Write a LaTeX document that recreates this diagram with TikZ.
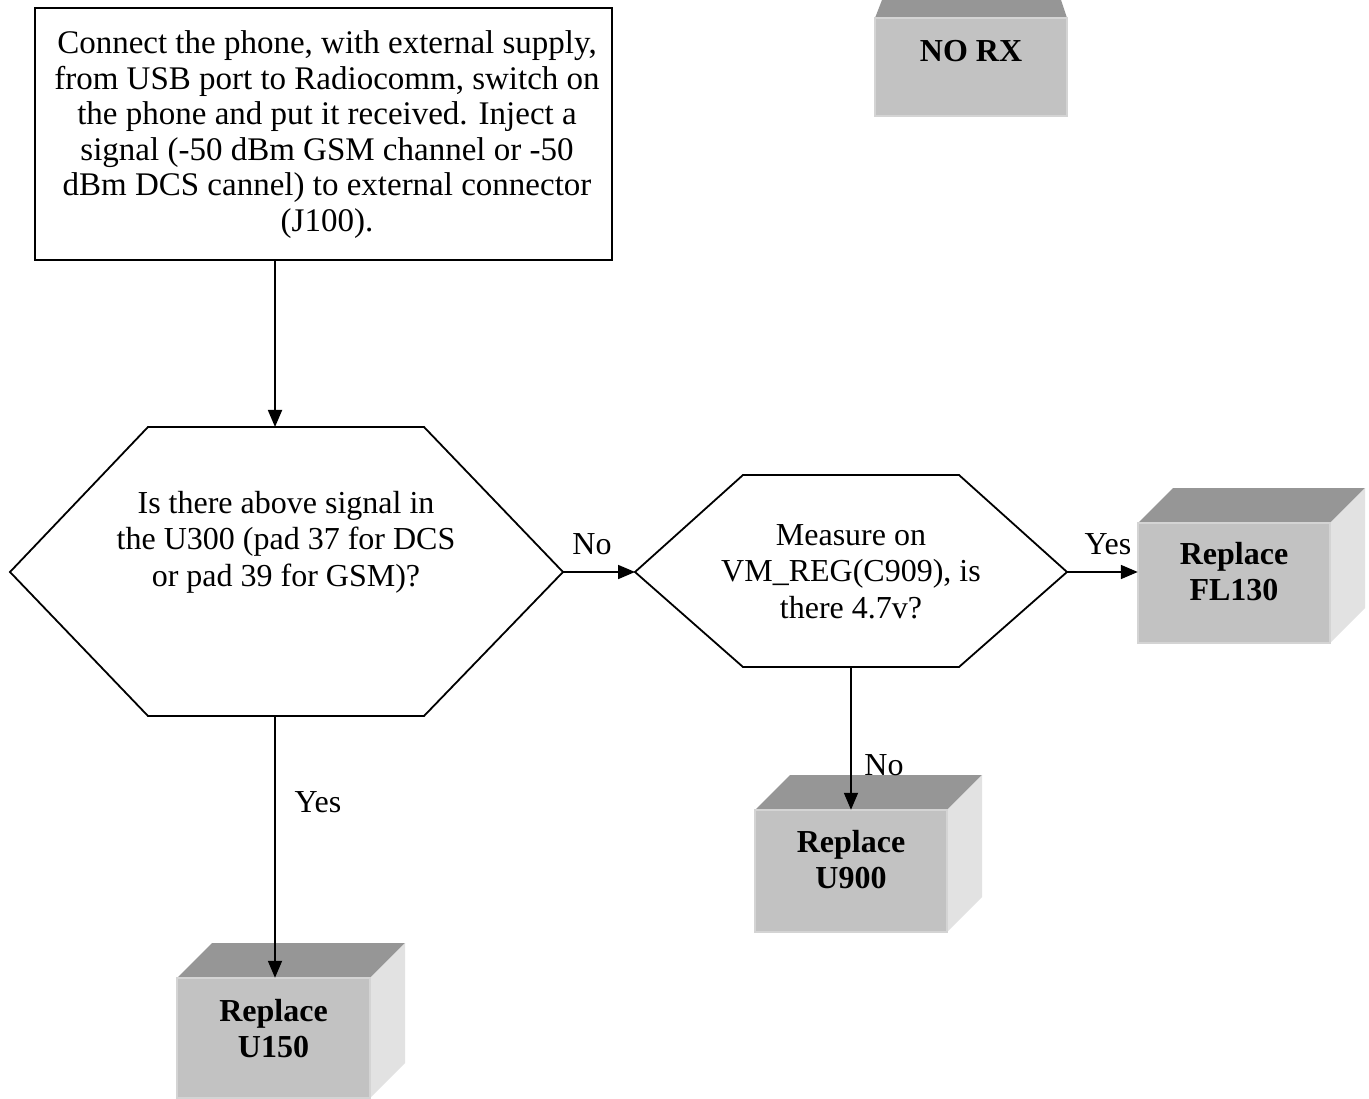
\documentclass[tikz,border=0pt]{standalone}
\usepackage{fontspec}
\setmainfont{Liberation Serif}
\usetikzlibrary{arrows.meta}
\definecolor{cfront}{RGB}{194,194,194}
\definecolor{ctop}{RGB}{150,150,150}
\definecolor{cside}{RGB}{226,226,226}
\definecolor{cedge}{RGB}{212,212,212}
\tikzset{
  conn/.style={line width=1.8pt, -{Triangle[length=17pt,width=14pt]}},
  shapeline/.style={line width=1.8pt, line join=miter},
  body/.style={font=\fontsize{32}{36.5}\selectfont, inner sep=0pt, anchor=base},
  bigbody/.style={font=\fontsize{33}{35.5}\selectfont, inner sep=0pt, anchor=base},
  boxtxt/.style={font=\fontsize{32}{36.5}\selectfont\bfseries, inner sep=0pt, anchor=base},
  lbl/.style={font=\fontsize{32}{36.5}\selectfont, inner sep=0pt, anchor=base},
}
\newcommand\mkcube[5]{%
  \fill[ctop] (#2,#3) -- (#4,#3) -- ({#4+35},{#3-35}) -- ({#2+35},{#3-35}) -- cycle;
  \fill[cside] (#4,#3) -- ({#4+35},{#3-35}) -- ({#4+35},{#5-35}) -- (#4,#5) -- cycle;
  \filldraw[fill=cfront, draw=cedge, line width=1.2pt] (#2,#3) rectangle (#4,#5);
  \node[inner sep=0pt, minimum width={#4-#2}, minimum height={#5-#3}] (#1) at ({(#2+#4)/2},{(#3+#5)/2}) {};
}
\begin{document}
\begin{tikzpicture}[x=1pt,y=-1pt]
\useasboundingbox (0,0) rectangle (1369,1099);
\fill[white] (0,0) rectangle (1369,1099);

% start box
\node[draw, line width=1.8pt, minimum width=577, minimum height=252, inner sep=0pt] (start) at (323.5,134) {};
\node[bigbody] (starttxt) at (327,54) {\parbox[t]{600pt}{\centering Connect the phone, with external supply,\\ from USB port to Radiocomm, switch on\\ the phone and put it received. Inject a\\ signal (-50 dBm GSM channel or -50\\ dBm DCS cannel) to external connector\\ (J100).}};

% hexagon 1
\draw[shapeline] (10,572) -- (148,427) -- (424,427) -- (563,572) -- (424,716) -- (148,716) -- cycle;
\coordinate (h1L) at (10,572);
\coordinate (h1R) at (563,572);
\coordinate (h1T) at (275,427);
\coordinate (h1B) at (275,716);
\node[body] (h1txt) at (286,513) {\parbox[t]{420pt}{\centering Is there above signal in\\ the U300 (pad 37 for DCS\\ or pad 39 for GSM)?}};

% hexagon 2
\draw[shapeline] (635,572) -- (743,475) -- (959,475) -- (1067,572) -- (959,667) -- (743,667) -- cycle;
\coordinate (h2L) at (635,572);
\coordinate (h2R) at (1067,572);
\coordinate (h2B) at (851,667);
\node[body] (h2txt) at (851,545) {\parbox[t]{400pt}{\centering Measure on\\ VM\_REG(C909), is\\ there 4.7v?}};

% cubes
\fill[ctop] (875,18) -- (1067,18) -- (1061,0) -- (882,0) -- cycle;
\filldraw[fill=cfront, draw=cedge, line width=1.2pt] (875,18) rectangle (1067,116);
\node[inner sep=0pt, minimum width=192, minimum height=98] (norx) at (971,67) {};
\node[boxtxt] (norxtxt) at (971,62) {NO RX};

\mkcube{fl}{1138}{523}{1330}{643}
\node[boxtxt] (fltxt) at (1234,564) {\parbox[t]{190pt}{\centering Replace\\ FL130}};

\mkcube{u9}{755}{810}{947}{932}
\node[boxtxt] (u9txt) at (851,852) {\parbox[t]{190pt}{\centering Replace\\ U900}};

\mkcube{u1}{177}{978}{370}{1098}
\node[boxtxt] (u1txt) at (273.5,1021) {\parbox[t]{190pt}{\centering Replace\\ U150}};

% connectors
\coordinate (startout) at (275,260);
\draw[conn] (startout) -- (h1T);
\draw[conn] (h1R) -- (h2L);
\draw[conn] (h2R) -- (h2R -| fl.west);
\draw[conn] (h2B) -- (u9.north);
\draw[conn] (h1B) -- (h1B |- u1.north);

% labels
\node[lbl] (lno1) at (592,554) {No};
\node[lbl] (lyes1) at (1108,554) {Yes};
\node[lbl] (lno2) at (884,775) {No};
\node[lbl] (lyes2) at (318,812) {Yes};
\end{tikzpicture}
\end{document}
